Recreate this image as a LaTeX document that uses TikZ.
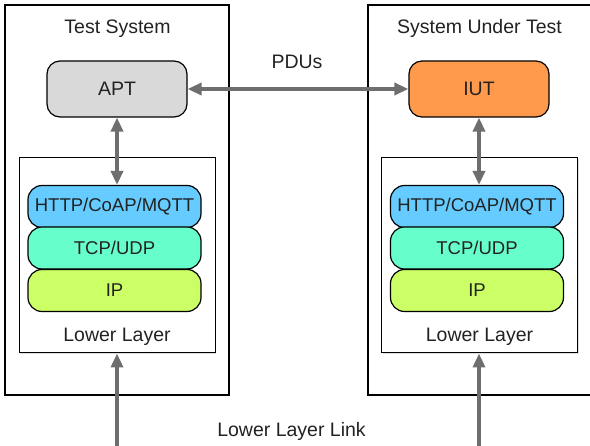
\documentclass[tikz,border=0pt]{standalone}
\usepackage{fontspec}
\setmainfont{Liberation Sans}
\usetikzlibrary{arrows.meta,shadows}

\definecolor{aptgray}{HTML}{D9D9D9}
\definecolor{iutorange}{HTML}{FF9A4C}
\definecolor{appblue}{HTML}{66CCFF}
\definecolor{tcpgreen}{HTML}{66FFCC}
\definecolor{iplime}{HTML}{CCFF66}
\definecolor{linkgray}{HTML}{6E6E6E}
\definecolor{txtgray}{HTML}{222222}

\tikzset{
	sysbox/.style={draw, line width=1.1pt, minimum width=224pt, minimum height=390pt, inner sep=0pt},
	lowbox/.style={draw, fill=white, line width=1pt, minimum width=196pt, minimum height=195pt, inner sep=0pt,
		drop shadow={shadow xshift=1pt, shadow yshift=-1.5pt, opacity=.25}},
	entity/.style={draw, rounded corners=13pt, line width=1.2pt, minimum width=140pt, minimum height=56pt,
		text=txtgray, font=\fontsize{19.5}{22}\selectfont},
	layer/.style={draw, rounded corners=14pt, line width=1.2pt, minimum width=173pt, minimum height=42pt,
		inner sep=0pt, text=txtgray, font=\fontsize{18.5}{22}\selectfont},
	caption/.style={anchor=base, text=txtgray, font=\fontsize{19.5}{22}\selectfont},
	link/.style={draw=linkgray, line width=4pt, {Triangle[length=14pt,width=12pt]}-{Triangle[length=14pt,width=12pt]}},
	uplink/.style={draw=linkgray, line width=4pt, -{Triangle[length=14pt,width=12pt]}}
}

% #1 name prefix, #2 x of the stack, #3 x of the lower layer box
\newcommand{\protostack}[3]
{\node[lowbox] (#1low) at (#3,255.5) {};
	\node[layer, fill=appblue] (#1app) at (#2,206.5) {HTTP/CoAP/MQTT};
	\node[layer, fill=tcpgreen] (#1tcp) at (#2,248) {TCP/UDP};
	\node[layer, fill=iplime] (#1ip) at (#2,290.5) {IP};
	\node[caption] (#1cap) at (#3,341.7) {Lower Layer};
}

\begin{document}
\begin{tikzpicture}[x=1pt,y=-1pt]
	\useasboundingbox (0,0) rectangle (590,446);
	% the two systems
	\node[sysbox] (ts) at (117,200) {};
	\node[sysbox] (sut) at (480,200) {};
	\node[caption] (tstitle) at (117.5,33.3) {Test System};
	\node[caption] (suttitle) at (479.5,33.3) {System Under Test};
	\node[entity, fill=aptgray] (apt) at (117,89) {APT};
	\node[entity, fill=iutorange] (iut) at (479,89) {IUT};
	\protostack{A}{114.5}{117}
	\protostack{B}{477}{479.5}
	% links
	\draw[link] (apt.east) -- (iut.west);
	\node[caption] (pdus) at (297,69) {PDUs};
	\draw[link] (apt.south) -- (apt.south |- Aapp.north);
	\draw[link] (iut.south) -- (iut.south |- Bapp.north);
	\coordinate (lkA) at (117,450);
	\coordinate (lkB) at (479,450);
	\draw[uplink] (lkA) -- (lkA |- Alow.south);
	\draw[uplink] (lkB) -- (lkB |- Blow.south);
	\node[caption] (lowlink) at (291.5,436.7) {Lower Layer Link};
\end{tikzpicture}
\end{document}
